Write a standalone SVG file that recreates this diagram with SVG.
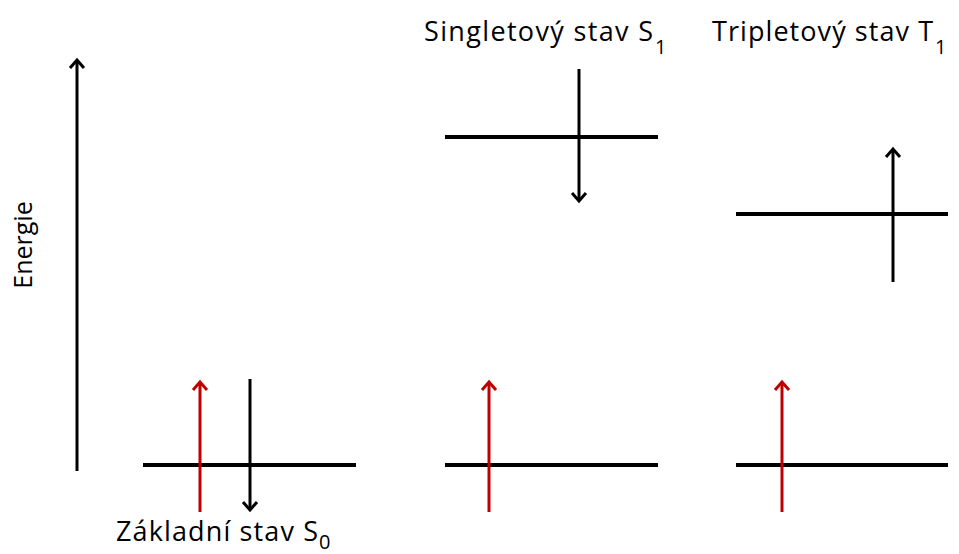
<svg xmlns="http://www.w3.org/2000/svg" width="959" height="554" viewBox="0 0 959 554">
<style>
.lvl{stroke:#000;stroke-width:4;fill:none}
.bk{stroke:#000;stroke-width:3;fill:none}
.rd{stroke:#c00000;stroke-width:3;fill:none}
text{font-family:"Open Sans","Noto Sans",sans-serif;font-size:27px;fill:#000}
.ax{font-size:25px}
.sub{font-size:20px}
</style>
<defs>
<marker id="ab" markerUnits="userSpaceOnUse" markerWidth="20" markerHeight="20" refX="10" refY="10" orient="auto">
<polyline points="2,3 10,10 2,17" fill="none" stroke="#000" stroke-width="3"/>
</marker>
<marker id="ar" markerUnits="userSpaceOnUse" markerWidth="20" markerHeight="20" refX="10" refY="10" orient="auto">
<polyline points="2,3 10,10 2,17" fill="none" stroke="#c00000" stroke-width="3"/>
</marker>
</defs>
<g id="axis">
<line class="bk" x1="77" y1="471" x2="77" y2="60" marker-end="url(#ab)"/>
<text class="ax" transform="translate(32,245) rotate(-90)" text-anchor="middle">Energie</text>
</g>
<g id="ground">
<line class="lvl" x1="143" y1="465" x2="356" y2="465"/>
<text x="116" y="541" textLength="202" lengthAdjust="spacing">Základní stav S</text>
<text class="sub" x="319" y="549">0</text>
</g>
<g id="singlet">
<line class="lvl" x1="445" y1="465" x2="658" y2="465"/>
<line class="lvl" x1="445" y1="137" x2="658" y2="137"/>
<text x="424" y="41" textLength="229" lengthAdjust="spacing">Singletový stav S</text>
<text class="sub" x="655" y="54">1</text>
</g>
<g id="triplet">
<line class="lvl" x1="736" y1="465" x2="948" y2="465"/>
<line class="lvl" x1="736" y1="214" x2="948" y2="214"/>
<text x="712" y="41" textLength="221" lengthAdjust="spacing">Tripletový stav T</text>
<text class="sub" x="935" y="54">1</text>
</g>
<g id="connectors">
<line class="rd" x1="200" y1="512" x2="200" y2="382" marker-end="url(#ar)"/>
<line class="bk" x1="250" y1="379" x2="250" y2="510" marker-end="url(#ab)"/>
<line class="rd" x1="489" y1="512" x2="489" y2="382" marker-end="url(#ar)"/>
<line class="bk" x1="579" y1="69" x2="579" y2="201" marker-end="url(#ab)"/>
<line class="rd" x1="782" y1="512" x2="782" y2="382" marker-end="url(#ar)"/>
<line class="bk" x1="893" y1="282" x2="893" y2="149" marker-end="url(#ab)"/>
</g>
</svg>
